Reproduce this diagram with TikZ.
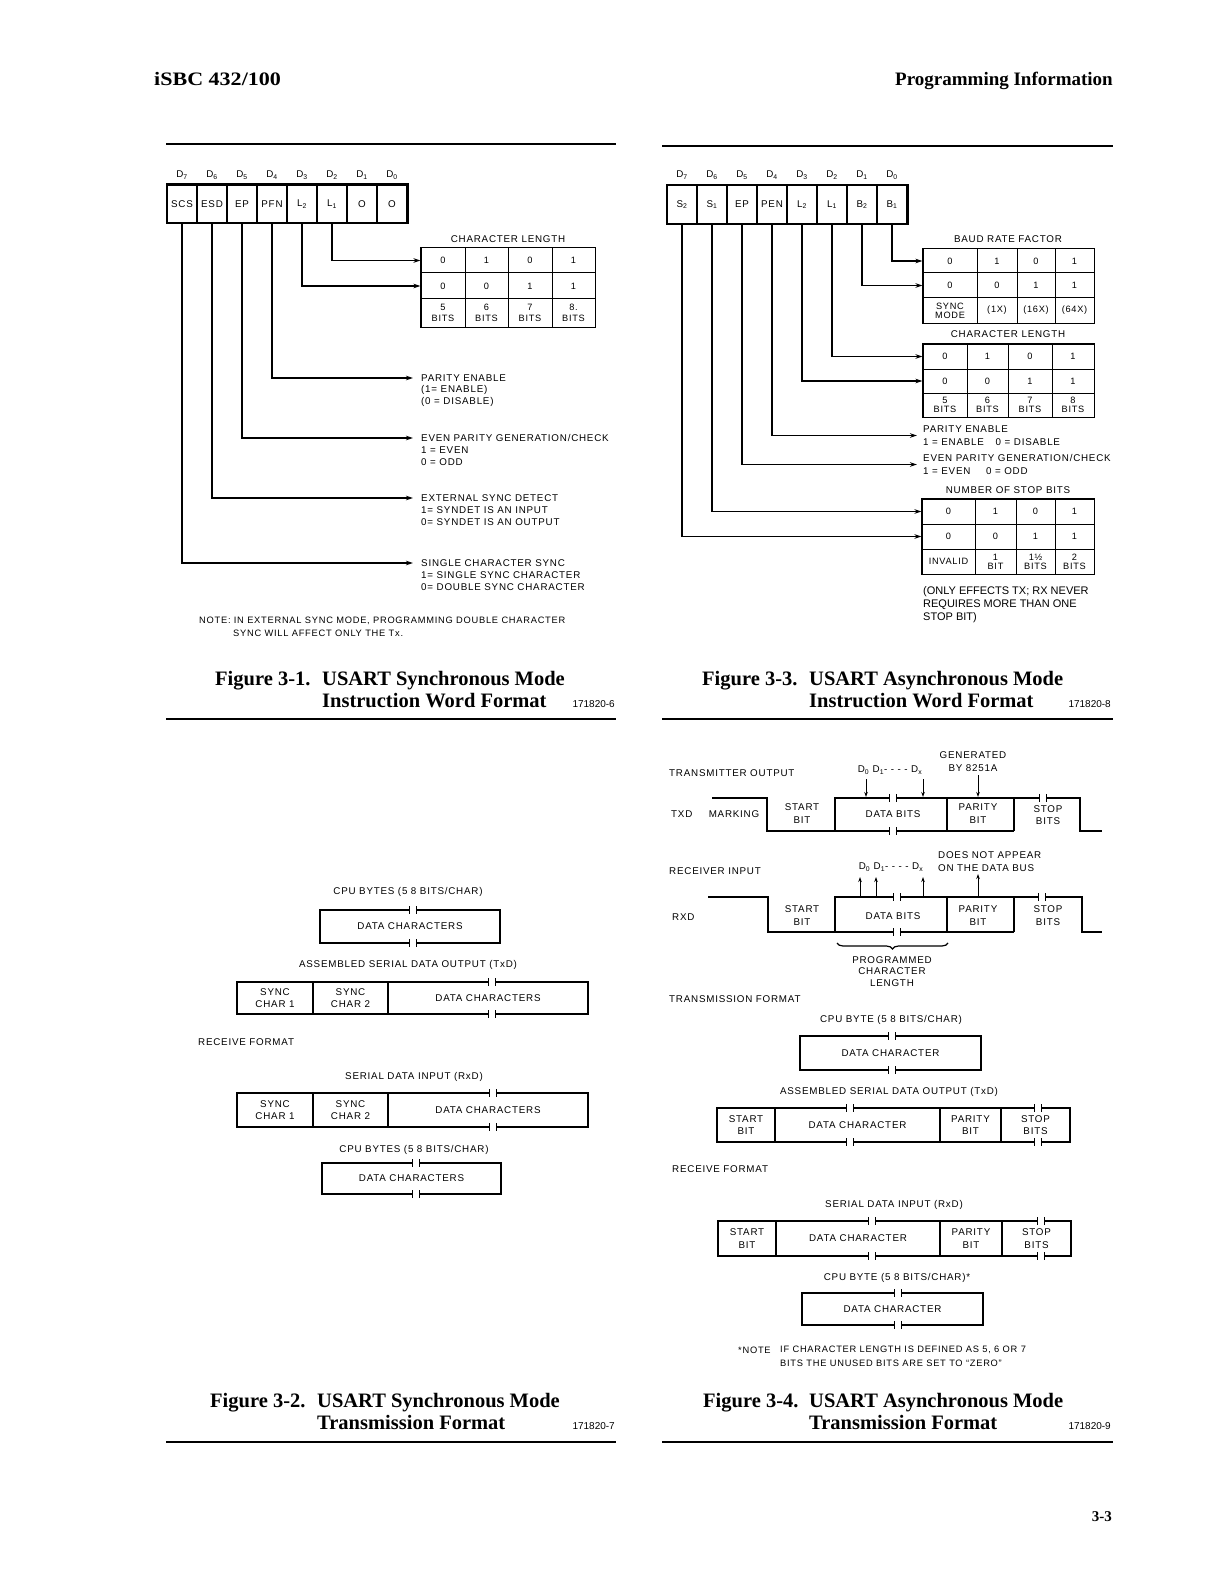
\documentclass[tikz,border=0pt]{standalone}
\usepackage{fontspec}
\setmainfont{Liberation Serif}
\newfontfamily\labff[LetterSpace=8]{Liberation Sans}
\newfontfamily\plainff{Liberation Sans}
\usetikzlibrary{arrows.meta,decorations.pathreplacing}

\newcommand\labsz{\labff\fontsize{9.8}{12.3}\selectfont}
\newcommand\tabsz{\labff\fontsize{9.2}{10.5}\selectfont}
\newcommand\tabtight{\labff\fontsize{9.2}{9.2}\selectfont}
\newcommand\notesz{\labff\fontsize{9.3}{12.5}\selectfont}

\tikzset{
  lab/.style={font=\labsz, inner sep=0pt, align=center},
  labl/.style={font=\labsz, inner sep=0pt, align=left, anchor=west},
  tcellbase/.style={draw, line width=1pt, inner sep=0pt, font=\tabsz, align=center},
  tcelltight/.style={tcellbase, font=\tabtight},
  regcell/.style={draw, line width=1.2pt, minimum width=30pt, minimum height=38pt, inner sep=0pt, font=\labsz},
  arr/.style={line width=1.3pt, -{Stealth[length=7pt,width=4.5pt]}},
  arrs/.style={line width=1pt, -{Stealth[length=5pt,width=3.5pt]}},
  wave/.style={line width=1.4pt},
  fbox/.style={draw, line width=1.3pt, inner sep=0pt, font=\labsz, align=center},
  rulel/.style={line width=1.6pt},
  figcap/.style={font=\fontsize{20.5}{24}\selectfont\bfseries, inner sep=0pt, anchor=base west},
  capno/.style={font=\plainff\fontsize{10}{12}\selectfont, inner sep=0pt, anchor=base east},
}

% style, name, x1, x2, y1, y2, text
\newcommand\cellat[7]{\node[#1, minimum width={(#4)-(#3)}, minimum height={(#6)-(#5)}] (#2) at ({((#3)+(#4))/2},{((#5)+(#6))/2}) {#7};}
% break mark at x,y
\newcommand\brk[2]{\fill[white] ({#1-3.5},{#2-2.3}) rectangle ({#1+3.5},{#2+2.3});
  \draw[line width=1pt] ({#1-3.5},{#2-3.8}) -- ({#1-3.5},{#2+3.8}) ({#1+3.5},{#2-3.8}) -- ({#1+3.5},{#2+3.8});}

\begin{document}
\begin{tikzpicture}[x=1pt,y=-1pt]
\fill[white] (0,0) rectangle (1224,1578);
\useasboundingbox (0,0) rectangle (1224,1578);

% ---------- page header ----------
\node[font=\fontsize{19}{22}\selectfont\bfseries, anchor=base west, inner sep=0pt] (hdl) at (154,86) {\scalebox{1.16}[1]{iSBC 432/100}};
\node[font=\fontsize{19}{22}\selectfont\bfseries, anchor=base east, inner sep=0pt] (hdr) at (1113,86) {Programming Information};

\draw[rulel] (166,144) -- (616,144);
\draw[rulel] (662,146) -- (1113,146);
\draw[rulel] (166,719) -- (616,719);
\draw[rulel] (662,719) -- (1113,719);
\draw[rulel] (166,1442) -- (616,1442);
\draw[rulel] (662,1442) -- (1113,1442);

% ================= Figure 3-1 =================
\foreach \k in {0,...,7} {
  \pgfmathtruncatemacro\bit{7-\k}
  \node[lab] (fa-d\bit) at ({182+30*\k},175) {D\textsubscript{\bit}};
}
\foreach \k/\t in {0/SCS,1/ESD,2/EP,3/PFN,4/{L\textsubscript{2}},5/{L\textsubscript{1}},6/O,7/O} {
  \node[regcell] (fa-r\k) at ({182+30*\k},204) {\t};
}
\draw[line width=1.8pt] (fa-r0.north west) rectangle (fa-r7.south east);

\node[lab] (fa-tt) at (508,239) {CHARACTER LENGTH};
\cellat{tcellbase}{fa-t11}{421}{465}{248}{273}{0}
\cellat{tcellbase}{fa-t12}{465}{508}{248}{273}{1}
\cellat{tcellbase}{fa-t13}{508}{552}{248}{273}{0}
\cellat{tcellbase}{fa-t14}{552}{595}{248}{273}{1}
\cellat{tcellbase}{fa-t21}{421}{465}{273}{299}{0}
\cellat{tcellbase}{fa-t22}{465}{508}{273}{299}{0}
\cellat{tcellbase}{fa-t23}{508}{552}{273}{299}{1}
\cellat{tcellbase}{fa-t24}{552}{595}{273}{299}{1}
\cellat{tcellbase}{fa-t31}{421}{465}{299}{327}{5\\BITS}
\cellat{tcellbase}{fa-t32}{465}{508}{299}{327}{6\\BITS}
\cellat{tcellbase}{fa-t33}{508}{552}{299}{327}{7\\BITS}
\cellat{tcellbase}{fa-t34}{552}{595}{299}{327}{8.\\BITS}
\draw[line width=1.6pt] (fa-t11.north west) rectangle (fa-t34.south east);

\node[labl, inner xsep=8pt] (fa-pe) at (413,378) {PARITY ENABLE};
\node[labl] (fa-pe2) at (421,396) {(1= ENABLE)\\(0 = DISABLE)};
\node[labl, inner xsep=8pt] (fa-ep) at (413,438) {EVEN PARITY GENERATION/CHECK};
\node[labl] (fa-ep2) at (421,456) {1 = EVEN\\0 = ODD};
\node[labl, inner xsep=8pt] (fa-esd) at (413,498) {EXTERNAL SYNC DETECT};
\node[labl] (fa-esd2) at (421,516) {1= SYNDET IS AN INPUT\\0= SYNDET IS AN OUTPUT};
\node[labl, inner xsep=8pt] (fa-scs) at (413,563) {SINGLE CHARACTER SYNC};
\node[labl] (fa-scs2) at (421,581) {1= SINGLE SYNC CHARACTER\\0= DOUBLE SYNC CHARACTER};

\draw[arr] (fa-r5.south) |- (fa-t11.west);
\draw[arr] (fa-r4.south) |- (fa-t21.west);
\draw[arr] (fa-r3.south) |- (fa-pe.west);
\draw[arr] (fa-r2.south) |- (fa-ep.west);
\draw[arr] (fa-r1.south) |- (fa-esd.west);
\draw[arr] (fa-r0.south) |- (fa-scs.west);

\node[labl, font=\notesz] (fa-n1) at (199,621) {NOTE: IN EXTERNAL SYNC MODE, PROGRAMMING DOUBLE CHARACTER};
\node[labl, font=\notesz] (fa-n2) at (233,633) {SYNC WILL AFFECT ONLY THE Tx.};

\node[figcap] (ca1) at (215,685) {Figure 3-1.};
\node[figcap] (ca1t) at (322,685) {USART Synchronous Mode};
\node[figcap] (ca1u) at (322,707) {Instruction Word Format};
\node[capno] (ca1n) at (615,707) {171820-6};

% ================= Figure 3-3 =================
\foreach \k in {0,...,7} {
  \pgfmathtruncatemacro\bit{7-\k}
  \node[lab] (fc-d\bit) at ({682+30*\k},175) {D\textsubscript{\bit}};
}
\foreach \k/\t in {0/{S\textsubscript{2}},1/{S\textsubscript{1}},2/EP,3/PEN,4/{L\textsubscript{2}},5/{L\textsubscript{1}},6/{B\textsubscript{2}},7/{B\textsubscript{1}}} {
  \node[regcell] (fc-r\k) at ({682+30*\k},204.5) {\t};
}
\draw[line width=1.8pt] (fc-r0.north west) rectangle (fc-r7.south east);

\node[lab] (fc-bt) at (1008,239) {BAUD RATE FACTOR};
\cellat{tcellbase}{fc-b11}{923}{977}{249}{273}{0}
\cellat{tcellbase}{fc-b12}{977}{1017}{249}{273}{1}
\cellat{tcellbase}{fc-b13}{1017}{1055}{249}{273}{0}
\cellat{tcellbase}{fc-b14}{1055}{1094}{249}{273}{1}
\cellat{tcellbase}{fc-b21}{923}{977}{273}{298}{0}
\cellat{tcellbase}{fc-b22}{977}{1017}{273}{298}{0}
\cellat{tcellbase}{fc-b23}{1017}{1055}{273}{298}{1}
\cellat{tcellbase}{fc-b24}{1055}{1094}{273}{298}{1}
\cellat{tcelltight}{fc-b31}{923}{977}{298}{323}{SYNC\\MODE}
\cellat{tcellbase}{fc-b32}{977}{1017}{298}{323}{(1X)}
\cellat{tcellbase}{fc-b33}{1017}{1055}{298}{323}{(16X)}
\cellat{tcellbase}{fc-b34}{1055}{1094}{298}{323}{(64X)}
\draw[line width=1.6pt] (fc-b11.north west) rectangle (fc-b34.south east);

\node[lab] (fc-ct) at (1008,334) {CHARACTER LENGTH};
\cellat{tcellbase}{fc-c11}{923}{967}{344}{369}{0}
\cellat{tcellbase}{fc-c12}{967}{1008}{344}{369}{1}
\cellat{tcellbase}{fc-c13}{1008}{1052}{344}{369}{0}
\cellat{tcellbase}{fc-c14}{1052}{1094}{344}{369}{1}
\cellat{tcellbase}{fc-c21}{923}{967}{369}{393}{0}
\cellat{tcellbase}{fc-c22}{967}{1008}{369}{393}{0}
\cellat{tcellbase}{fc-c23}{1008}{1052}{369}{393}{1}
\cellat{tcellbase}{fc-c24}{1052}{1094}{369}{393}{1}
\cellat{tcelltight}{fc-c31}{923}{967}{393}{417}{5\\BITS}
\cellat{tcelltight}{fc-c32}{967}{1008}{393}{417}{6\\BITS}
\cellat{tcelltight}{fc-c33}{1008}{1052}{393}{417}{7\\BITS}
\cellat{tcelltight}{fc-c34}{1052}{1094}{393}{417}{8\\BITS}
\draw[line width=1.6pt] (fc-c11.north west) rectangle (fc-c34.south east);

\node[labl, inner xsep=6pt, font=\labff\fontsize{9.8}{13}\selectfont] (fc-pe) at (917,435.5) {PARITY ENABLE\\1 = ENABLE\hspace{1.2em}0 = DISABLE};
\node[labl, inner xsep=6pt, font=\labff\fontsize{9.8}{13}\selectfont] (fc-ep) at (917,464.5) {EVEN PARITY GENERATION/CHECK\\1 = EVEN\hspace{1.6em}0 = ODD};

\node[lab] (fc-st) at (1008,490) {NUMBER OF STOP BITS};
\cellat{tcellbase}{fc-s11}{922}{975}{499}{524}{0}
\cellat{tcellbase}{fc-s12}{975}{1016}{499}{524}{1}
\cellat{tcellbase}{fc-s13}{1016}{1055}{499}{524}{0}
\cellat{tcellbase}{fc-s14}{1055}{1094}{499}{524}{1}
\cellat{tcellbase}{fc-s21}{922}{975}{524}{549}{0}
\cellat{tcellbase}{fc-s22}{975}{1016}{524}{549}{0}
\cellat{tcellbase}{fc-s23}{1016}{1055}{524}{549}{1}
\cellat{tcellbase}{fc-s24}{1055}{1094}{524}{549}{1}
\cellat{tcelltight}{fc-s31}{922}{975}{549}{574}{INVALID}
\cellat{tcelltight}{fc-s32}{975}{1016}{549}{574}{1\\BIT}
\cellat{tcelltight}{fc-s33}{1016}{1055}{549}{574}{1½\\BITS}
\cellat{tcelltight}{fc-s34}{1055}{1094}{549}{574}{2\\BITS}
\draw[line width=1.6pt] (fc-s11.north west) rectangle (fc-s34.south east);

\draw[arr] (fc-r7.south) |- (fc-b11.west);
\draw[arr] (fc-r6.south) |- (fc-b21.west);
\draw[arr] (fc-r5.south) |- (fc-c11.west);
\draw[arr] (fc-r4.south) |- (fc-c21.west);
\draw[arr] (fc-r3.south) |- (fc-pe.west);
\draw[arr] (fc-r2.south) |- (fc-ep.west);
\draw[arr] (fc-r1.south) |- (fc-s11.west);
\draw[arr] (fc-r0.south) |- (fc-s21.west);

\node[font=\plainff\fontsize{11}{13}\selectfont, anchor=north west, align=left, inner sep=0pt] (fc-note) at (923,586) {(ONLY EFFECTS TX; RX NEVER\\REQUIRES MORE THAN ONE\\STOP BIT)};

\node[figcap] (ca3) at (702,685) {Figure 3-3.};
\node[figcap] (ca3t) at (809,685) {USART Asynchronous Mode};
\node[figcap] (ca3u) at (809,707) {Instruction Word Format};
\node[capno] (ca3n) at (1111,707) {171820-8};

% ================= Figure 3-2 =================
\node[lab] (fb-l1) at (408,892) {CPU BYTES (5 8 BITS/CHAR)};
\cellat{fbox}{fb-c1}{320}{500}{910}{943}{DATA CHARACTERS}
\brk{413}{910} \brk{413}{943}

\node[lab] (fb-l2) at (408,965) {ASSEMBLED SERIAL DATA OUTPUT (TxD)};
\cellat{fbox}{fb-a1}{237}{313}{982}{1014}{SYNC\\CHAR 1}
\cellat{fbox}{fb-a2}{313}{388}{982}{1014}{SYNC\\CHAR 2}
\cellat{fbox}{fb-a3}{388}{588}{982}{1014}{DATA CHARACTERS}
\brk{492}{982} \brk{492}{1014}

\node[labl] (fb-rf) at (198,1042) {RECEIVE FORMAT};

\node[lab] (fb-l3) at (414,1077) {SERIAL DATA INPUT (RxD)};
\cellat{fbox}{fb-b1}{237}{313}{1093}{1127}{SYNC\\CHAR 1}
\cellat{fbox}{fb-b2}{313}{388}{1093}{1127}{SYNC\\CHAR 2}
\cellat{fbox}{fb-b3}{388}{588}{1093}{1127}{DATA CHARACTERS}
\brk{493}{1093} \brk{493}{1127}

\node[lab] (fb-l4) at (414,1150) {CPU BYTES (5 8 BITS/CHAR)};
\cellat{fbox}{fb-c2}{322}{501}{1163}{1194}{DATA CHARACTERS}
\brk{416}{1163} \brk{416}{1194}

\node[figcap] (ca2) at (210,1407) {Figure 3-2.};
\node[figcap] (ca2t) at (317,1407) {USART Synchronous Mode};
\node[figcap] (ca2u) at (317,1429) {Transmission Format};
\node[capno] (ca2n) at (615,1429) {171820-7};

% ================= Figure 3-4 =================
% transmitter
\node[labl] (fd-txo) at (669,773) {TRANSMITTER OUTPUT};
\node[lab] (fd-dd1) at (890,770) {D\textsubscript{0} D\textsubscript{1}- - - - D\textsubscript{x}};
\node[lab] (fd-gen) at (973,761.5) {GENERATED\\BY 8251A};
\coordinate (fd-a1s) at (866,779); \coordinate (fd-a1e) at (866,797);
\coordinate (fd-a2s) at (923,779); \coordinate (fd-a2e) at (923,797);
\coordinate (fd-a3s) at (978,775); \coordinate (fd-a3e) at (978,797);
\draw[arrs] (fd-a1s) -- (fd-a1e);
\draw[arrs] (fd-a2s) -- (fd-a2e);
\draw[arrs] (fd-a3s) -- (fd-a3e);

\draw[wave] (712,798) -- (767,798) -- (767,831) -- (1014,831);
\draw[wave] (835,831) -- (835,798) -- (1080,798) -- (1080,831) -- (1102,831);
\draw[wave] (947,798) -- (947,831);
\draw[wave] (1014,798) -- (1014,831);
\brk{893}{798} \brk{893}{831} \brk{1043}{798}

\node[labl] (fd-txd) at (671,814) {TXD};
\node[lab] (fd-mark) at (734,814) {MARKING};
\node[lab] (fd-st1) at (802,813.5) {START\\BIT};
\node[lab] (fd-db1) at (893,814) {DATA BITS};
\node[lab] (fd-pb1) at (978,813.5) {PARITY\\BIT};
\node[lab] (fd-sb1) at (1048,815) {STOP\\BITS};

% receiver
\node[labl] (fd-rxi) at (938,861.5) {DOES NOT APPEAR\\ON THE DATA BUS};
\node[labl] (fd-rin) at (669,871) {RECEIVER INPUT};
\node[lab] (fd-dd2) at (891,867) {D\textsubscript{0} D\textsubscript{1}- - - - D\textsubscript{x}};
\coordinate (fd-b1s) at (860,896); \coordinate (fd-b1e) at (860,877);
\coordinate (fd-b2s) at (876,896); \coordinate (fd-b2e) at (876,877);
\coordinate (fd-b3s) at (923,896); \coordinate (fd-b3e) at (923,877);
\coordinate (fd-b4s) at (978,896); \coordinate (fd-b4e) at (978,874);
\draw[arrs] (fd-b1s) -- (fd-b1e);
\draw[arrs] (fd-b2s) -- (fd-b2e);
\draw[arrs] (fd-b3s) -- (fd-b3e);
\draw[arrs] (fd-b4s) -- (fd-b4e);

\draw[wave] (708,897) -- (768,897) -- (768,932) -- (1014,932);
\draw[wave] (835,932) -- (835,897) -- (1082,897) -- (1082,932) -- (1102,932);
\draw[wave] (947,897) -- (947,932);
\draw[wave] (1014,897) -- (1014,932);
\brk{897}{897} \brk{897}{932} \brk{1042}{897}

\node[labl] (fd-rxd) at (672,917) {RXD};
\node[lab] (fd-st2) at (802,915.5) {START\\BIT};
\node[lab] (fd-db2) at (893,916) {DATA BITS};
\node[lab] (fd-pb2) at (978,915.5) {PARITY\\BIT};
\node[lab] (fd-sb2) at (1048,915.5) {STOP\\BITS};

\draw[line width=1.2pt, decorate, decoration={brace, amplitude=6pt, mirror}] (837,943) -- (948,943);
\node[lab, font=\labff\fontsize{9.8}{11.6}\selectfont] (fd-pcl) at (892,971.5) {PROGRAMMED\\CHARACTER\\LENGTH};
\node[labl] (fd-tf) at (669,999) {TRANSMISSION FORMAT};

% lower part
\node[lab] (fd-l1) at (891,1020) {CPU BYTE (5 8 BITS/CHAR)};
\cellat{fbox}{fd-ca}{800}{981}{1036}{1070}{DATA CHARACTER}
\brk{892}{1036} \brk{892}{1070}

\node[lab] (fd-l2) at (889,1092) {ASSEMBLED SERIAL DATA OUTPUT (TxD)};
\cellat{fbox}{fd-t1}{717}{775}{1108}{1142}{START\\BIT}
\cellat{fbox}{fd-t2}{775}{940}{1108}{1142}{DATA CHARACTER}
\cellat{fbox}{fd-t3}{940}{1001}{1108}{1142}{PARITY\\BIT}
\cellat{fbox}{fd-t4}{1001}{1070}{1108}{1142}{STOP\\BITS}
\brk{850}{1108} \brk{850}{1142} \brk{1038}{1108} \brk{1038}{1142}

\node[labl] (fd-rf) at (672,1169) {RECEIVE FORMAT};

\node[lab] (fd-l3) at (894,1205) {SERIAL DATA INPUT (RxD)};
\cellat{fbox}{fd-r1}{718}{776}{1221}{1256}{START\\BIT}
\cellat{fbox}{fd-r2}{776}{940}{1221}{1256}{DATA CHARACTER}
\cellat{fbox}{fd-r3}{940}{1002}{1221}{1256}{PARITY\\BIT}
\cellat{fbox}{fd-r4}{1002}{1071}{1221}{1256}{STOP\\BITS}
\brk{872}{1221} \brk{872}{1256} \brk{1041}{1221} \brk{1041}{1256}

\node[lab] (fd-l4) at (897,1278) {CPU BYTE (5 8 BITS/CHAR)*};
\cellat{fbox}{fd-cb}{802}{983}{1293}{1325}{DATA CHARACTER}
\brk{898}{1293} \brk{898}{1325}

\node[labl, font=\notesz] (fd-n1) at (738,1350) {*NOTE};
\node[labl, font=\notesz] (fd-n2) at (780,1350) {IF CHARACTER LENGTH IS DEFINED AS 5, 6 OR 7};
\node[labl, font=\notesz] (fd-n3) at (780,1363) {BITS THE UNUSED BITS ARE SET TO “ZERO”};

\node[figcap] (ca4) at (703,1407) {Figure 3-4.};
\node[figcap] (ca4t) at (809,1407) {USART Asynchronous Mode};
\node[figcap] (ca4u) at (809,1429) {Transmission Format};
\node[capno] (ca4n) at (1111,1429) {171820-9};

% page number
\node[font=\fontsize{15}{18}\selectfont\bfseries, anchor=base east, inner sep=0pt] (pg) at (1112,1521) {3-3};
\end{tikzpicture}
\end{document}
